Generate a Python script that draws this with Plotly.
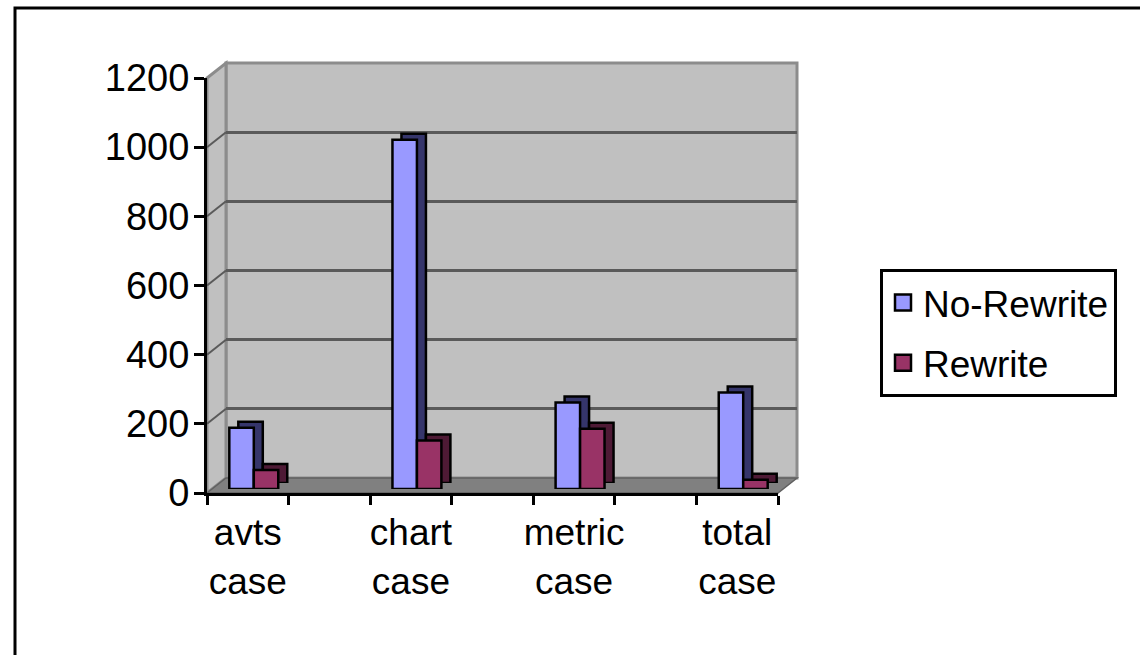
import plotly.graph_objects as go

# ---------------- data ----------------
categories = ["avts case", "chart case", "metric case", "total case"]
series_names = ["No-Rewrite", "Rewrite"]
no_rewrite = [177, 1010, 250, 279]
rewrite = [55, 140, 174, 27]
y_ticks = [0, 200, 400, 600, 800, 1000, 1200]

# ---------------- style ----------------
FRONT = ["#9999FF", "#993366"]
SIDE = ["#35356B", "#4E1A35"]
WALL = "#C0C0C0"
FLOOR = "#808080"
EDGE = "#8C8C8C"
GRID = "#5A5A5A"
FONT = "Liberation Sans, Arial, sans-serif"

# geometry (pixels)
WIDTH, HEIGHT = 1140, 655
L, T = 207, 63           # plot area left / top
FW, FH = 571, 415        # front axes size
DX, DY = 19, 15          # depth of the 3-D box
W, H = FW + DX, FH + DY  # whole plot area
BAR_DX, BAR_DY = 6, 4    # bar front face depth
SH_DX, SH_DY = 15, 10    # bar back face depth


def dom(dx, dy):
    return [dx / W, (dx + FW) / W], [dy / H, (dy + FH) / H]


def px(x, y):
    """pixel -> paper coordinates"""
    return (x - L) / W, (T + H - y) / H


n_slots = 2 * len(categories) - 1
cat_pos = [2 * i + 0.5 for i in range(len(categories))]
bar_w = 0.3
values = [no_rewrite, rewrite]
offsets = [-bar_w, 0.0]

fig = go.Figure()

# empty traces to create the front axes and the back wall axes
fig.add_trace(go.Scatter(x=[], y=[], xaxis="x", yaxis="y", showlegend=False))
fig.add_trace(go.Scatter(x=[], y=[], xaxis="x2", yaxis="y2", showlegend=False))

# back faces (tops / sides) of the bars
for k in range(2):
    fig.add_trace(go.Bar(
        x=cat_pos, y=values[k], width=bar_w, offset=offsets[k],
        xaxis="x3", yaxis="y3", showlegend=False, hoverinfo="skip",
        marker=dict(color=SIDE[k], line=dict(color="black", width=2.5)),
    ))

# front faces
for k in range(2):
    fig.add_trace(go.Bar(
        x=cat_pos, y=values[k], width=bar_w, offset=offsets[k],
        xaxis="x4", yaxis="y4", name=series_names[k], legendgroup=series_names[k],
        showlegend=False,
        marker=dict(color=FRONT[k], line=dict(color="black", width=2.5)),
    ))

# legend entries (bigger square swatches, like the original)
for k in range(2):
    fig.add_trace(go.Scatter(
        x=[None], y=[None], mode="markers", xaxis="x4", yaxis="y4",
        name=series_names[k], legendgroup=series_names[k], showlegend=True,
        marker=dict(symbol="square", size=16, color=FRONT[k],
                    line=dict(color="black", width=2.5)),
    ))

hidden = dict(showline=False, showticklabels=False, ticks="", zeroline=False, showgrid=False)

xd, yd = dom(0, 0)
xd2, yd2 = dom(DX, DY)
xd3, yd3 = dom(SH_DX, SH_DY)
xd4, yd4 = dom(BAR_DX, BAR_DY)

fig.update_layout(
    width=WIDTH, height=HEIGHT,
    margin=dict(l=L, r=WIDTH - L - W, t=T, b=HEIGHT - T - H, pad=0),
    paper_bgcolor="white", plot_bgcolor="rgba(0,0,0,0)",
    font=dict(family=FONT, size=37, color="black"),
    barmode="overlay",
    xaxis=dict(domain=xd, anchor="y", range=[0, n_slots], tickmode="array",
               tickvals=cat_pos, ticktext=[c.replace(" ", "<br>") for c in categories],
               ticks="", showline=True, linecolor="black", linewidth=3,
               showgrid=False, zeroline=False, ticklabelstandoff=5,
               minor=dict(tickmode="array", tickvals=list(range(n_slots + 1)),
                          ticks="outside", ticklen=9, tickwidth=3, tickcolor="black",
                          showgrid=False)),
    yaxis=dict(domain=yd, anchor="x", range=[0, y_ticks[-1]], tickmode="array",
               tickvals=y_ticks, ticks="outside", ticklen=10, tickwidth=3,
               tickcolor="black", showline=True, linecolor="black", linewidth=3,
               showgrid=False, zeroline=False, ticklabelstandoff=-3,
               tickfont=dict(size=38)),
    xaxis2=dict(domain=xd2, anchor="y2", range=[0, n_slots], **hidden),
    yaxis2=dict(domain=yd2, anchor="x2", range=[0, y_ticks[-1]], tickmode="array",
                tickvals=y_ticks[:-1], showgrid=True, gridcolor=GRID, gridwidth=2.5,
                showline=False, showticklabels=False, ticks="", zeroline=False),
    xaxis3=dict(domain=xd3, anchor="y3", range=[0, n_slots], **hidden),
    yaxis3=dict(domain=yd3, anchor="x3", range=[0, y_ticks[-1]], **hidden),
    xaxis4=dict(domain=xd4, anchor="y4", range=[0, n_slots], **hidden),
    yaxis4=dict(domain=yd4, anchor="x4", range=[0, y_ticks[-1]], **hidden),
    legend=dict(x=px(880, 0)[0], y=px(0, 269)[1], xanchor="left", yanchor="top",
                bordercolor="black", borderwidth=3, bgcolor="white",
                font=dict(family=FONT, size=37, color="black"),
                traceorder="grouped", tracegroupgap=9, itemwidth=30),
    showlegend=True,
)

shapes = []
# back wall
shapes.append(dict(type="rect", xref="x2 domain", yref="y2 domain", x0=0, x1=1, y0=0, y1=1,
                   fillcolor=WALL, line=dict(color=EDGE, width=3), layer="below"))
# side wall
p = [px(L, T + DY), px(L, T + H), px(L + DX, T + H - DY), px(L + DX, T)]
path = "M{},{} L{},{} L{},{} L{},{} Z".format(*[c for pt in p for c in pt])
shapes.append(dict(type="path", xref="paper", yref="paper", path=path,
                   fillcolor=WALL, line=dict(color=EDGE, width=3), layer="below"))
# side wall grid lines
for v in y_ticks[1:-1]:
    shapes.append(dict(type="line", xref="paper", yref="y", ysizemode="pixel", yanchor=v,
                       x0=0, x1=DX / W, y0=0, y1=DY,
                       line=dict(color=GRID, width=2), layer="below"))
# floor
p = [px(L, T + H), px(L + FW, T + H), px(L + W, T + H - DY), px(L + DX, T + H - DY)]
path = "M{},{} L{},{} L{},{} L{},{} Z".format(*[c for pt in p for c in pt])
shapes.append(dict(type="path", xref="paper", yref="paper", path=path,
                   fillcolor=FLOOR, line=dict(color="#606060", width=1.5), layer="below"))
# outer frame of the picture
x0, y1 = px(15, 8)
shapes.append(dict(type="rect", xref="paper", yref="paper", x0=x0, y1=y1, x1=3, y0=-3,
                   line=dict(color="black", width=3), fillcolor="rgba(0,0,0,0)"))
fig.update_layout(shapes=shapes)

fig.write_html("out.html")
